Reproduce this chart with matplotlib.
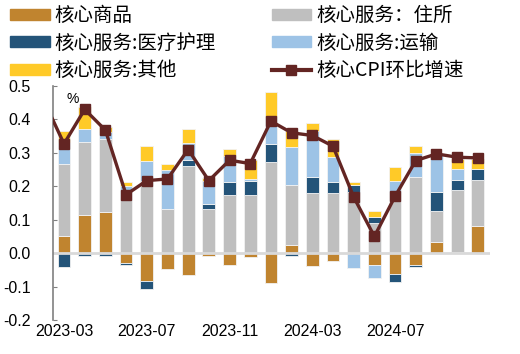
import matplotlib
matplotlib.use("Agg")
import numpy as np
from matplotlib import pyplot as plt
from matplotlib.patches import Patch
from matplotlib.lines import Line2D

plt.rcParams['font.family'] = ['Noto Sans CJK SC', 'DejaVu Sans']
plt.rcParams['axes.unicode_minus'] = True

# monthly contributions, 2023-03 .. 2024-11 (pct points)
months = ['2023-03', '2023-04', '2023-05', '2023-06', '2023-07', '2023-08', '2023-09',
          '2023-10', '2023-11', '2023-12', '2024-01', '2024-02', '2024-03', '2024-04',
          '2024-05', '2024-06', '2024-07', '2024-08', '2024-09', '2024-10', '2024-11']
goods = [0.05, 0.113, 0.122, -0.028, -0.083, -0.048, -0.065, -0.007, -0.035, -0.01, -0.088,
         0.023, -0.038, -0.024, 0.0, -0.035, -0.061, -0.035, 0.034, 0.004, 0.082]
shelter = [0.218, 0.22, 0.22, 0.175, 0.215, 0.132, 0.262, 0.132, 0.174, 0.174, 0.272,
           0.181, 0.18, 0.18, 0.182, 0.09, 0.18, 0.228, 0.092, 0.185, 0.138]
medical = [-0.042, -0.008, -0.008, -0.007, -0.025, 0.0, 0.016, 0.015, 0.04, 0.041, 0.056,
           -0.007, 0.049, 0.033, 0.023, 0.017, -0.025, -0.006, 0.058, 0.031, 0.032]
transport = [0.065, 0.037, 0.02, 0.027, 0.062, 0.118, 0.052, 0.068, 0.078, 0.007, 0.079,
             0.113, 0.136, 0.075, -0.045, -0.04, 0.035, 0.072, 0.111, 0.033, 0.0]
other = [0.032, 0.067, 0.015, 0.01, 0.045, 0.017, 0.042, 0.009, 0.021, 0.058, 0.076,
         0.048, 0.024, 0.054, 0.007, 0.018, 0.042, 0.02, 0.0, 0.03, 0.03]

# core CPI m/m, 2023-02 .. 2024-11 (first point sits left of the visible range)
core_months = ['2023-02'] + months
core = [0.46, 0.327, 0.43, 0.368, 0.175, 0.217, 0.222, 0.31, 0.217, 0.278, 0.268, 0.395,
        0.36, 0.352, 0.32, 0.168, 0.05, 0.17, 0.277, 0.297, 0.287, 0.285]

tick_labels = ['2023-03', '2023-07', '2023-11', '2024-03', '2024-07']

series = [
    ('核心商品', goods, '#C0842F'),
    ('核心服务：住所', shelter, '#BFBFBF'),
    ('核心服务:医疗护理', medical, '#245479'),
    ('核心服务:运输', transport, '#9DC3E6'),
    ('核心服务:其他', other, '#FFCA28'),
]

fig = plt.figure(figsize=(5.2, 3.54), dpi=100)
ax = fig.add_axes([0.102, 0.096, 0.840, 0.661])

x = np.arange(len(months))
pos = np.zeros(len(months))
neg = np.zeros(len(months))
handles = {}
for name, vals, col in series:
    v = np.array(vals)
    bottom = np.where(v >= 0, pos, neg)
    ax.bar(x, v, 0.62, bottom=bottom, color=col, edgecolor='#f2f2f2', linewidth=0.6, zorder=2)
    pos = pos + np.clip(v, 0, None)
    neg = neg + np.clip(v, None, 0)
    handles[name] = Patch(color=col)

ax.axhline(0, color='#d9d9d9', lw=2, zorder=2.5)

xc = np.arange(-1, len(months))
ax.plot(xc, core, color='#632523', lw=2.4, marker='s', ms=7, zorder=3)

ax.set_xlim(-0.53, 20.58)
ax.set_ylim(-0.2, 0.5)
yt = np.round(np.arange(-0.2, 0.51, 0.1), 1)
ax.set_yticks(yt)
ax.set_yticklabels(['%.1f' % t for t in yt], family='Liberation Sans', fontsize=11.5)
ax.set_xticks([months.index(m) for m in tick_labels])
ax.set_xticklabels(tick_labels, family='Liberation Sans', fontsize=11.5)
ax.tick_params(axis='y', direction='in', length=3, color='#808080', pad=16)
ax.tick_params(axis='x', length=0, pad=3)
for s in ['top', 'right', 'bottom']:
    ax.spines[s].set_visible(False)
ax.spines['left'].set_color('#808080')
ax.spines['left'].set_linewidth(1.2)

ax.text(0.03, 0.975, '%', transform=ax.transAxes, fontsize=10, family='Liberation Sans',
        ha='left', va='top')

leg_order = ['核心商品', '核心服务:医疗护理', '核心服务:其他', '核心服务：住所', '核心服务:运输']
hs = [handles[n] for n in leg_order]
hs.append(Line2D([], [], color='#632523', lw=3, marker='s', ms=7))
labels = leg_order + ['核心CPI环比增速']
fig.legend(hs, labels, ncol=2, loc='upper left', bbox_to_anchor=(10 / 520, 1 - 5 / 354),
           frameon=False, fontsize=14, handlelength=2.05, handleheight=0.5,
           handletextpad=0.25, columnspacing=2.85, labelspacing=0.34,
           borderpad=0, borderaxespad=0)

fig.savefig('out.png', dpi=100)
